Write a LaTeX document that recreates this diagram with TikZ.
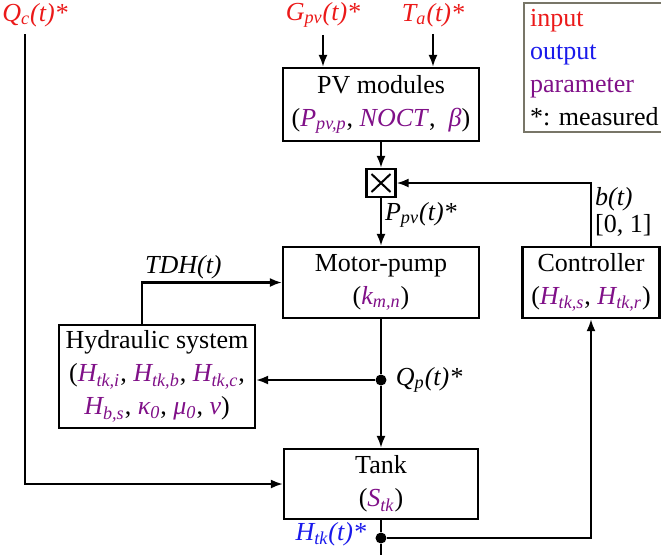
\documentclass[tikz,border=0pt]{standalone}
\usepackage{fontspec}
\setmainfont{Liberation Serif}
\usetikzlibrary{arrows.meta, positioning, calc}
\definecolor{inred}{RGB}{235,25,25}
\definecolor{outblue}{RGB}{25,25,235}
\definecolor{parpurple}{RGB}{128,16,136}
\definecolor{leggray}{RGB}{120,118,104}
\newcommand{\parm}[1]{\textcolor{parpurple}{\textit{#1}}}

\begin{document}
\begin{tikzpicture}[
    x=0.5pt, y=-0.5pt,
    every node/.style={font=\fontsize{13}{16.5}\selectfont},
    block/.style={draw, rectangle, line width=1.1pt, align=center, inner sep=2pt},
    mult/.style={draw, rectangle, line width=1.1pt, minimum width=14.5pt, minimum height=14pt, inner sep=0pt,
        path picture={\draw[line width=1pt]
            ([shift={(2.5pt,2.5pt)}]path picture bounding box.south west) -- ([shift={(-2.5pt,-2.5pt)}]path picture bounding box.north east)
            ([shift={(2.5pt,-2.5pt)}]path picture bounding box.north west) -- ([shift={(-2.5pt,2.5pt)}]path picture bounding box.south east);}},
    junction/.style={circle, fill, inner sep=0pt, minimum size=5.5pt},
    inlabel/.style={text=inred, font=\fontsize{13}{16.5}\selectfont\itshape},
    outlabel/.style={text=outblue, font=\fontsize{13}{16.5}\selectfont\itshape},
    siglabel/.style={font=\fontsize{13}{16.5}\selectfont\itshape},
    arrow/.style={-{Latex[length=6pt,width=4.5pt]}, line width=1.1pt},
    line/.style={line width=1.1pt}
]
    \useasboundingbox (0,0) rectangle (661,554);

    % Inputs
    \node (qc)  [inlabel] at (35,15)  {Q\textsubscript{c}(t)*};
    \node (gpv) [inlabel] at (323,15) {G\textsubscript{pv}(t)*};
    \node (ta)  [inlabel] at (433,15) {T\textsubscript{a}(t)*};
    \coordinate (qcstart) at (25,34);

    % Blocks
    \node (pv)   [block, minimum width=98pt, minimum height=36.5pt] at (381,104.5) {PV modules\\(\parm{P\textsubscript{pv,p}}, \parm{NOCT}, \ \parm{β})};
    \node (mult) [mult] at (381,183) {};
    \node (mp)   [block, minimum width=98pt, minimum height=35.5pt] at (381,282.5) {Motor-pump\\(\parm{k\textsubscript{m,n}})};
    \node (ctrl) [block, minimum width=68.5pt, minimum height=35.5pt] at (591,282.5) {Controller\\(\parm{H\textsubscript{tk,s}}, \parm{H\textsubscript{tk,r}})};
    \node (hyd)  [block, minimum width=98pt, minimum height=51.5pt] at (157,376.5) {Hydraulic system\\(\parm{H\textsubscript{tk,i}}, \parm{H\textsubscript{tk,b}}, \parm{H\textsubscript{tk,c}},\\\parm{H\textsubscript{b,s}}, \parm{κ\textsubscript{0}}, \parm{μ\textsubscript{0}}, \parm{ν})};
    \node (tank) [block, minimum width=97pt, minimum height=35pt] at (381,484) {Tank\\(\parm{S\textsubscript{tk}})};

    % Legend
    \node (legend) [draw=leggray, line width=1.1pt, align=left, text width=76pt, anchor=north west, inner sep=3pt] at (523,2)
        {\textcolor{inred}{input}\\\textcolor{outblue}{output}\\\textcolor{parpurple}{parameter}\\{*}:\ measured};

    % Junctions
    \node (qdot) [junction] at (381,380) {};
    \node (hdot) [junction] at (381,538) {};
    \coordinate (hend) at (381,570);
    \node (qlabel) [siglabel, right=1pt of qdot] {Q\textsubscript{p}(t)*};
    \node (hlabel) [outlabel, left=1pt of hdot, yshift=2pt] {H\textsubscript{tk}(t)*};

    % Connections
    \draw [arrow] (gpv) -- (gpv |- pv.north);
    \draw [arrow] (ta) -- (ta |- pv.north);
    \draw [arrow] (pv) -- (mult);
    \draw [arrow] (mult) -- node[siglabel, right, pos=0.35, inner sep=1.5pt] {P\textsubscript{pv}(t)*} (mp);
    \draw [arrow] (ctrl.north) |- node[right, pos=0.27, align=left, inner sep=1.5pt] {\textit{b(t)}\\[-3pt][0, 1]} (mult.east);
    \draw [arrow] ([xshift=-7.5pt]hyd.north) |- node[siglabel, above right, pos=0.5, inner sep=1pt] {TDH(t)} (mp.west);
    \draw [line] (mp) -- (qdot);
    \draw [arrow] (qdot) -- (tank);
    \draw [arrow] (qdot) -- (qdot -| hyd.east);
    \draw [arrow] (qcstart) |- (tank.west);
    \draw [line] (tank) -- (hdot) -- (hend);
    \draw [arrow] (hdot) -| (ctrl.south);
\end{tikzpicture}
\end{document}
